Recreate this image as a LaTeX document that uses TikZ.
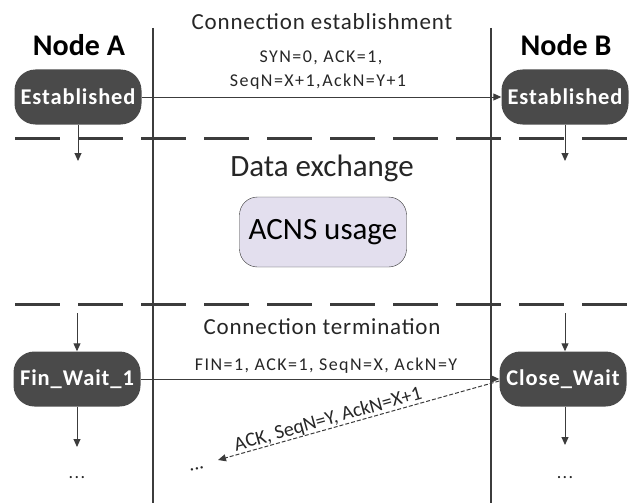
\documentclass[tikz,border=0pt]{standalone}
\usepackage{fontspec}
\setmainfont{Carlito}
\newfontfamily\msgfont{Carlito}[LetterSpace=8]
\newfontfamily\phasefont{Carlito}[LetterSpace=3.5]
\newfontfamily\statefont{Carlito}[LetterSpace=4]
\usetikzlibrary{arrows.meta}
\definecolor{stategray}{HTML}{4A4A4A}
\definecolor{linegray}{HTML}{3C3C3C}
\definecolor{lavender}{HTML}{E3DFEE}
\begin{document}
\begin{tikzpicture}[x=1pt,y=-1pt,
  state/.style={fill=stategray, rounded corners=21pt, minimum width=127pt, minimum height=55pt,
    text=white, font=\statefont\fontsize{22.5}{22.5}\selectfont\bfseries, inner sep=0pt},
  title/.style={font=\fontsize{30}{30}\selectfont\bfseries, text=black},
  phase/.style={font=\phasefont\fontsize{23}{23}\selectfont, text=black!85},
  bigphase/.style={font=\fontsize{31}{31}\selectfont, text=black!85},
  msg/.style={font=\msgfont\fontsize{18}{18}\selectfont, text=black!85, inner sep=1pt},
  slopedmsg/.style={font=\fontsize{20}{20}\selectfont, text=black!85, inner sep=0pt},
  lifeline/.style={draw=linegray, line width=2.5pt},
  sep/.style={draw=linegray, line width=3pt, dash pattern=on 45pt off 18pt},
  flow/.style={draw=linegray, line width=1pt, -{Triangle[length=8pt,width=7pt]}},
  usage/.style={draw=black!80, fill=lavender, rounded corners=18pt, minimum width=167pt, minimum height=70pt,
    font=\fontsize{31}{31}\selectfont, inner sep=0pt}
]
\useasboundingbox (0,0) rectangle (629,503);
% lifelines
\coordinate (L1t) at (153,28); \coordinate (L1b) at (153,503);
\coordinate (L2t) at (491,28); \coordinate (L2b) at (491,503);
\draw[lifeline] (L1t) -- (L1b);
\draw[lifeline] (L2t) -- (L2b);
% separators
\coordinate (S1l) at (15,138); \coordinate (S1r) at (629,138);
\coordinate (S2l) at (15,304); \coordinate (S2r) at (629,304);
\draw[sep] (S1l) -- (S1r);
\draw[sep] (S2l) -- (S2r);
% titles
\node[title] (tA) at (79,45) {Node A};
\node[title] (tB) at (566,45) {Node B};
\node[phase] (p1) at (322,22) {Connection establishment};
\node[bigphase] (p2) at (322,168) {Data exchange};
\node[phase] (p3) at (322,327) {Connection termination};
% states
\node[state] (eA) at (78,97) {Established};
\node[state] (eB) at (565,97) {Established};
\node[state] (fA) at (77,379) {Fin\_Wait\_1};
\node[state] (cB) at (563,379) {Close\_Wait};
\node[usage] (acns) at (323,232) {ACNS usage};
% messages
\node[msg] (m1) at (321,58) {SYN=0, ACK=1,};
\node[msg] (m2) at (318,82) {SeqN=X+1,AckN=Y+1};
\draw[flow] (eA.east) -- (eB.west);
\node[msg] (m3) at (326,366) {FIN=1, ACK=1, SeqN=X, AckN=Y};
\draw[flow] (fA.east) -- (cB.west);
\coordinate (dEnd) at (218,460);
\draw[flow, dash pattern=on 4pt off 2pt] ([yshift=-2pt]cB.west) -- node[slopedmsg, pos=0.6, sloped, above] {ACK, SeqN=Y, AckN=X+1} (dEnd);
\node[slopedmsg, rotate=15] (dd) at (197,469) {...};
% down arrows
\coordinate (aA1) at (78,161); \coordinate (aB1) at (565,161);
\draw[flow] (eA.south) -- (aA1);
\draw[flow] (eB.south) -- (aB1);
\coordinate (aA2) at (77,313); \coordinate (aB2) at (565,313);
\draw[flow] (aA2) -- (fA.north);
\draw[flow] (aB2) -- ([xshift=2pt]cB.north);
\coordinate (aA3) at (77,447); \coordinate (aB3) at (565,445);
\draw[flow] (fA.south) -- (aA3);
\draw[flow] ([xshift=2pt]cB.south) -- (aB3);
\node[msg] (dA) at (77,478) {...};
\node[msg] (dB) at (565,478) {...};
\end{tikzpicture}
\end{document}
